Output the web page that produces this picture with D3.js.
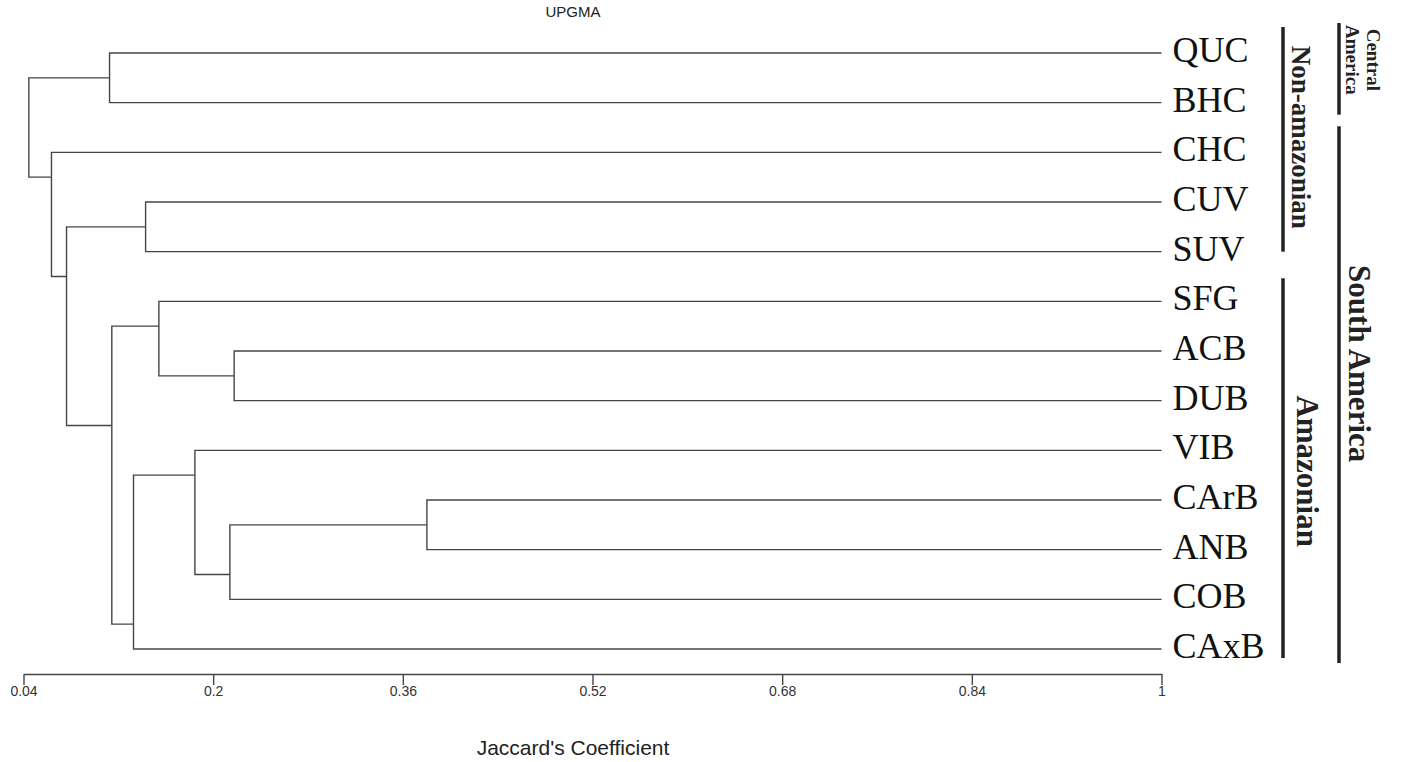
<!DOCTYPE html>
<html>
<head>
<meta charset="utf-8">
<script src="https://cdn.jsdelivr.net/npm/d3@7"></script>
<style>
body { margin: 0; background: #fff; }
</style>
</head>
<body>
<div id="chart"></div>
<script>

// leaves, top to bottom
const leaves = ['QUC','BHC','CHC','CUV','SUV','SFG','ACB','DUB','VIB','CArB','ANB','COB','CAxB']

// UPGMA joins: [node, left child, right child, Jaccard's coefficient]
const merges = [
	['n1', 'QUC', 'BHC', 0.1126],
	['n2', 'CUV', 'SUV', 0.1430],
	['n3', 'ACB', 'DUB', 0.2177],
	['n4', 'SFG', 'n3', 0.1542],
	['n5', 'CArB', 'ANB', 0.3803],
	['n6', 'n5', 'COB', 0.2141],
	['n7', 'VIB', 'n6', 0.1846],
	['n8', 'n7', 'CAxB', 0.1328],
	['n9', 'n4', 'n8', 0.1145],
	['n10', 'n2', 'n9', 0.0763],
	['n11', 'CHC', 'n10', 0.0636],
	['root', 'n1', 'n11', 0.0445]
]

const tickValues = [0.04, 0.2, 0.36, 0.52, 0.68, 0.84, 1]

// bracket groups: [label lines, first leaf, last leaf]
const innerGroups = [
	[['Non-amazonian'], 'QUC', 'SUV'],
	[['Amazonian'], 'SFG', 'CAxB']
]
const outerGroups = [
	[['Central', 'America'], 'QUC', 'BHC'],
	[['South America'], 'CHC', 'CAxB']
]

const width = 1401
const height = 762

let svg = d3.select('#chart').append('svg')
.attr('width', width)
.attr('height', height)

let xScale = d3.scaleLinear()
.domain([0.04, 1])
.range([23.5, 1161.5])

let yScale = d3.scalePoint()
.domain(leaves)
.range([53, 649])

let tree = svg.append('g')
.attr('fill', 'none')
.attr('stroke', '#454545')
.attr('stroke-width', 1.4)

const pos = {}
leaves.forEach(l => {
	pos[l] = {x: xScale(1), y: yScale(l), first: l, last: l}
})

merges.forEach(([id, a, b, h]) => {
	let nx = xScale(h)
	let A = pos[a], B = pos[b]
	// node sits between the two leaves either side of the split
	pos[id] = {x: nx, y: (yScale(A.last) + yScale(B.first)) / 2, first: A.first, last: B.last}

	tree.append('path')
	.attr('d', `M${A.x},${A.y}H${nx}V${B.y}H${B.x}`)
})

// leaf labels
svg.append('g')
.selectAll('text')
.data(leaves)
.join('text')
.attr('x', xScale(1) + 11)
.attr('y', d => yScale(d) + 9)
.attr('font-family', '"Liberation Serif", "Times New Roman", serif')
.attr('font-size', 36)
.attr('fill', '#111')
.text(d => d)

// axis
let axis = svg.append('g')
.attr('transform', 'translate(0,674)')
.call(
	d3.axisBottom(xScale)
	.tickValues(tickValues)
	.tickSizeInner(11)
	.tickSizeOuter(0)
	.tickFormat(d => d)
)
axis.select('.domain').attr('stroke', '#454545').attr('stroke-width', 1.4)
axis.selectAll('.tick line').attr('stroke', '#454545').attr('stroke-width', 1.4)
axis.selectAll('.tick text')
.attr('font-family', '"Liberation Sans", Arial, sans-serif')
.attr('font-size', 14)
.attr('fill', '#333')
.attr('dy', '0.85em')
.attr('y', 10)

svg.append('text')
.attr('x', 573)
.attr('y', 755)
.attr('text-anchor', 'middle')
.attr('font-family', '"Liberation Sans", Arial, sans-serif')
.attr('font-size', 21)
.attr('fill', '#222')
.text("Jaccard's Coefficient")

svg.append('text')
.attr('x', 573)
.attr('y', 17)
.attr('text-anchor', 'middle')
.attr('font-family', '"Liberation Sans", Arial, sans-serif')
.attr('font-size', 15)
.attr('fill', '#222')
.text('UPGMA')

// group brackets
let drawGroups = (groups, barX, pad, fontSize, textDx, textDy) => {
	groups.forEach(([lines, a, b], gi) => {
		let y0 = yScale(a) - pad[gi][0]
		let y1 = yScale(b) + pad[gi][1]
		svg.append('line')
		.attr('x1', barX).attr('x2', barX)
		.attr('y1', y0).attr('y2', y1)
		.attr('stroke', '#222')
		.attr('stroke-width', 3.5)

		let cy = (yScale(a) + yScale(b)) / 2 + textDy[gi]
		let t = svg.append('text')
		.attr('transform', `translate(${barX + textDx[gi]},${cy}) rotate(90)`)
		.attr('text-anchor', 'middle')
		.attr('font-family', '"Liberation Serif", "Times New Roman", serif')
		.attr('font-weight', 'bold')
		.attr('font-size', fontSize[gi])
		.attr('fill', '#222')

		lines.forEach((ln, i) => {
			t.append('tspan')
			.attr('x', 0)
			.attr('dy', i === 0 ? 0 : '1.1em')
			.text(ln)
		})
	})
}

drawGroups(innerGroups, 1283, [[26, 0], [23, 9]], [27, 31], [9, 14], [-15, -4])
drawGroups(outerGroups, 1339, [[30, 12], [26, 14]], [19, 31], [28, 10], [-18, -37])

</script>
</body>
</html>
